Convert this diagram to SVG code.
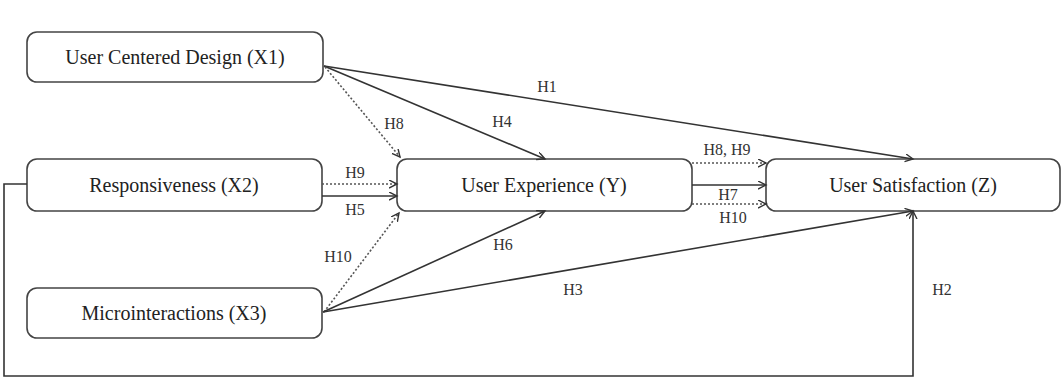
<svg xmlns="http://www.w3.org/2000/svg" width="1062" height="379" viewBox="0 0 1062 379">
<style>
.node{fill:#fff;stroke:#444;stroke-width:1.6}
.nt{font-family:"Liberation Serif","Times New Roman",serif;font-size:20px;fill:#222;text-anchor:middle}
.lb{font-family:"Liberation Serif","Times New Roman",serif;font-size:16px;fill:#333;text-anchor:middle}
.c{fill:none;stroke:#333;stroke-width:1.6}
.d{fill:none;stroke:#555;stroke-width:1.6;stroke-dasharray:2 2}
</style>
<defs>
<marker id="ah" markerUnits="userSpaceOnUse" markerWidth="10" markerHeight="10" refX="8" refY="4" orient="auto">
<path d="M0,0 L8,4 L0,8" fill="none" stroke="#333" stroke-width="1.4"/>
</marker>
</defs>
<rect width="1062" height="379" fill="#fff"/>
<g id="x1"><rect class="node" x="27" y="32" width="296" height="50" rx="10"/><text class="nt" x="175" y="64">User Centered Design (X1)</text></g>
<g id="x2"><rect class="node" x="27" y="159" width="295" height="52" rx="10"/><text class="nt" x="174" y="192">Responsiveness (X2)</text></g>
<g id="x3"><rect class="node" x="27" y="288" width="295" height="50" rx="10"/><text class="nt" x="174" y="320">Microinteractions (X3)</text></g>
<g id="y"><rect class="node" x="397" y="159" width="295" height="52" rx="10"/><text class="nt" x="544" y="192">User Experience (Y)</text></g>
<g id="z"><rect class="node" x="766" y="159" width="294" height="52" rx="10"/><text class="nt" x="913" y="192">User Satisfaction (Z)</text></g>
<g id="connectors">
<line class="c" x1="324" y1="66" x2="913" y2="159" marker-end="url(#ah)"/>
<line class="c" x1="324" y1="66" x2="545" y2="159" marker-end="url(#ah)"/>
<line class="d" x1="325" y1="67" x2="400" y2="157" marker-end="url(#ah)"/>
<line class="d" x1="322" y1="184" x2="397" y2="184" marker-end="url(#ah)"/>
<line class="c" x1="322" y1="196" x2="397" y2="196" marker-end="url(#ah)"/>
<line class="d" x1="324" y1="312" x2="399" y2="213" marker-end="url(#ah)"/>
<line class="c" x1="323" y1="312" x2="545" y2="211" marker-end="url(#ah)"/>
<line class="c" x1="323" y1="312" x2="913" y2="211" marker-end="url(#ah)"/>
<line class="d" x1="692" y1="163" x2="766" y2="163" marker-end="url(#ah)"/>
<line class="c" x1="692" y1="185" x2="766" y2="185" marker-end="url(#ah)"/>
<line class="d" x1="692" y1="204" x2="766" y2="204" marker-end="url(#ah)"/>
<polyline class="c" points="27,184 4,184 4,376 913,376 913,211" marker-end="url(#ah)"/>
<text class="lb" x="547" y="92">H1</text>
<text class="lb" x="502" y="127">H4</text>
<text class="lb" x="394" y="129">H8</text>
<text class="lb" x="355" y="178">H9</text>
<text class="lb" x="355" y="215">H5</text>
<text class="lb" x="338" y="262">H10</text>
<text class="lb" x="503" y="250">H6</text>
<text class="lb" x="573" y="295">H3</text>
<text class="lb" x="727" y="155">H8, H9</text>
<text class="lb" x="728" y="200">H7</text>
<text class="lb" x="733" y="223">H10</text>
<text class="lb" x="942" y="295">H2</text>
</g>
</svg>
